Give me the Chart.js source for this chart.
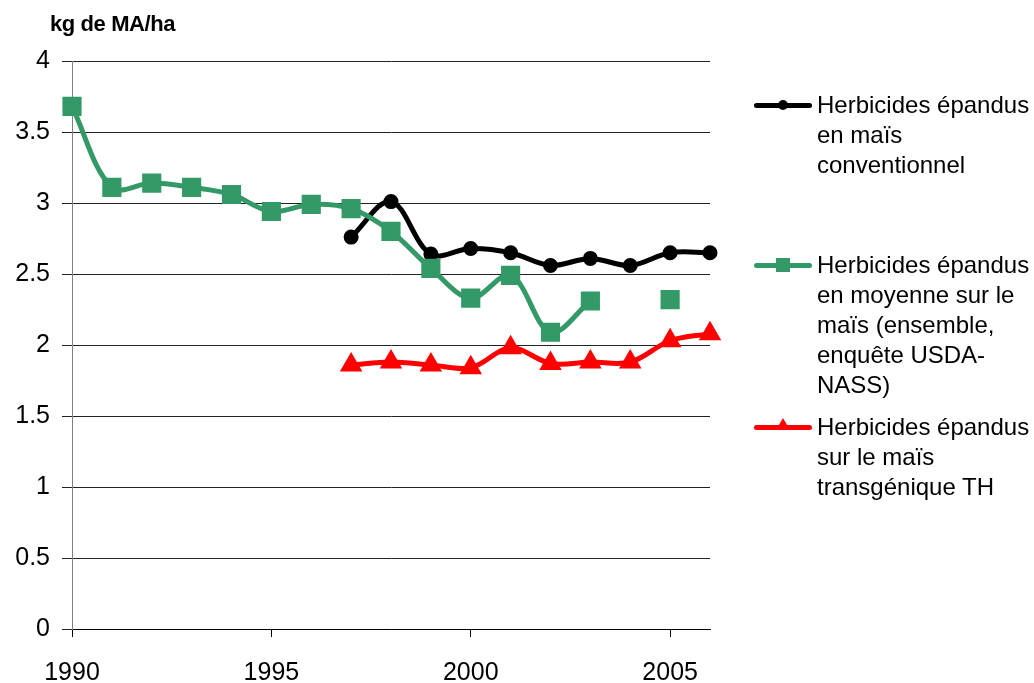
<!DOCTYPE html>
<html>
<head>
<meta charset="utf-8">
<script src="https://cdn.jsdelivr.net/npm/chart.js@4"></script>
<style>
  body { margin: 0; background: #fff; }
  #wrap { position: relative; width: 1034px; height: 683px; font-family: "Liberation Sans", Arial, sans-serif; }
  #unit { position: absolute; left: 50px; top: 12px; font-size: 22px; font-weight: bold; line-height: 24px; letter-spacing: -0.4px; }
  .entry { position: absolute; left: 754px; }
  .entry .sample { position: absolute; left: 0; width: 58px; top: 15px; height: 0; }
  .entry .sample .ln { position: absolute; left: 0; width: 58px; top: -2.5px; height: 5px; border-radius: 2.5px; }
  .entry .sample .mk { position: absolute; }
  .entry .txt { position: absolute; left: 63px; top: 0; font-size: 24px; line-height: 30px; white-space: nowrap; color: #000; }
</style>
</head>
<body>
<div id="wrap">
  <canvas id="chart" width="1034" height="683"></canvas>
  <div id="unit">kg de MA/ha</div>
  <div id="legend"></div>
</div>
<script>
// x categories
let years = ["1990","1991","1992","1993","1994","1995","1996","1997","1998",
             "1999","2000","2001","2002","2003","2004","2005","2006"];

// kg de MA/ha
let conventionnel = [null,null,null,null,null,null,null,2.76,3.01,2.64,2.68,2.65,2.56,2.61,2.56,2.65,2.65];
let moyenne       = [3.68,3.11,3.14,3.11,3.06,2.94,2.99,2.96,2.80,2.54,2.33,2.49,2.09,2.31,null,2.32,null];
let transgenique  = [null,null,null,null,null,null,null,1.86,1.88,1.86,1.84,1.98,1.87,1.88,1.88,2.03,2.08];

let yTicks = [0,0.5,1,1.5,2,2.5,3,3.5,4];

let labels = [
  ["Herbicides épandus","en maïs","conventionnel"],
  ["Herbicides épandus","en moyenne sur le","maïs (ensemble,","enquête USDA-","NASS)"],
  ["Herbicides épandus","sur le maïs","transgénique TH"]
];
let colors = ["#000000","#339966","#ff0000"];

let font = { family: "Liberation Sans, Arial, sans-serif", size: 25 };

new Chart(document.getElementById("chart"), {
  type: "line",
  data: {
    labels: years,
    datasets: [
      {
        label: labels[0].join(" "),
        data: conventionnel,
        borderColor: colors[0], backgroundColor: colors[0],
        borderWidth: 5, pointStyle: "circle", pointRadius: 5,
        tension: 0.35, order: 3
      },
      {
        label: labels[1].join(" "),
        data: moyenne,
        borderColor: colors[1], backgroundColor: colors[1],
        borderWidth: 5, pointStyle: "rect", pointRadius: 10,
        tension: 0.35, spanGaps: false, order: 2
      },
      {
        label: labels[2].join(" "),
        data: transgenique,
        borderColor: colors[2], backgroundColor: colors[2],
        borderWidth: 5, pointStyle: "triangle", pointRadius: 8,
        tension: 0.35, order: 1
      }
    ]
  },
  options: {
    responsive: false,
    animation: false,
    layout: { padding: { top: 61, right: 324, bottom: 0, left: 0 } },
    plugins: { legend: { display: false }, tooltip: { enabled: false } },
    scales: {
      x: {
        afterFit: s => { s.height = 54; },
        grid: {
          drawOnChartArea: false,
          tickLength: 8,
          color: ctx => (Number(years[ctx.index]) % 5 === 0 ? "#000" : "rgba(0,0,0,0)")
        },
        border: { color: "#000", width: 1 },
        ticks: {
          autoSkip: false, maxRotation: 0, minRotation: 0,
          padding: 21, color: "#000", font,
          callback: (v, i) => (Number(years[i]) % 5 === 0 ? years[i] : "")
        }
      },
      y: {
        min: 0, max: 4,
        afterFit: s => { s.width = 72; },
        afterBuildTicks: s => { s.ticks = yTicks.map(v => ({ value: v })); },
        grid: { color: "#222", tickLength: 10 },
        border: { color: "#808080", width: 1 },
        ticks: {
          padding: 12, color: "#000", font,
          callback: v => String(v)
        }
      }
    }
  }
});

// legend on the right, built in HTML for the multi-line labels
let tops = [90, 250, 412];
let legend = document.getElementById("legend");
labels.forEach((lines, i) => {
  let div = document.createElement("div");
  div.className = "entry";
  div.style.top = tops[i] + "px";
  let mk = "";
  if (i === 0) mk = '<div class="mk" style="left:24px;top:-5px;width:10px;height:10px;border-radius:5px;background:#000"></div>';
  if (i === 1) mk = '<div class="mk" style="left:22px;top:-7px;width:14px;height:14px;background:' + colors[1] + '"></div>';
  if (i === 2) mk = '<div class="mk" style="left:22px;top:-9px;width:0;height:0;border-left:7px solid transparent;border-right:7px solid transparent;border-bottom:12px solid ' + colors[2] + '"></div>';
  div.innerHTML = '<div class="sample"><div class="ln" style="background:' + colors[i] + '"></div>' + mk + '</div>' +
                  '<div class="txt">' + lines.join("<br>") + '</div>';
  legend.appendChild(div);
});
</script>
</body>
</html>
